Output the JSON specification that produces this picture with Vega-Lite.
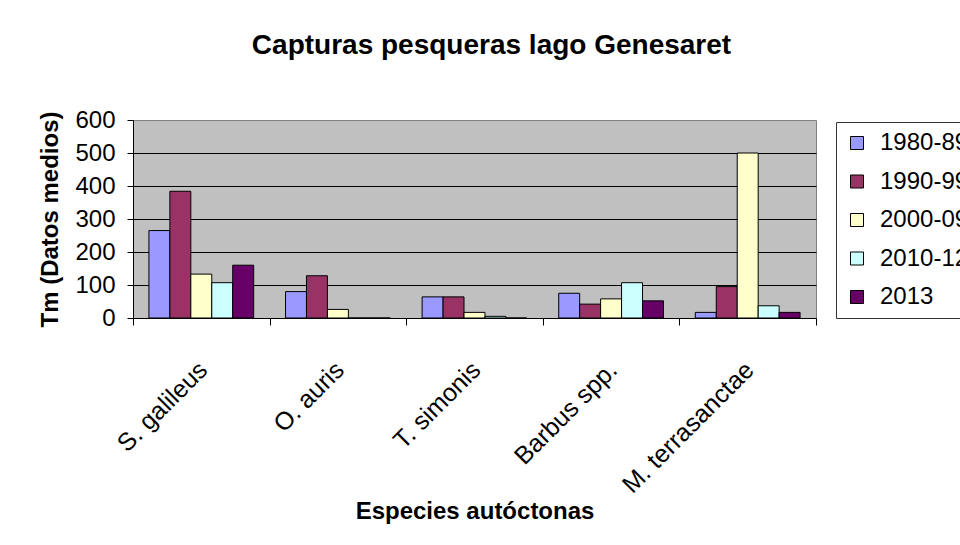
{
  "$schema": "https://vega.github.io/schema/vega-lite/v6.json",
  "width": 683,
  "height": 198,
  "autosize": {"type": "none"},
  "padding": {"left": 133, "top": 120, "right": 144, "bottom": 227},
  "background": "white",
  "title": {
    "text": "Capturas pesqueras lago Genesaret",
    "fontSize": 28,
    "fontWeight": "bold",
    "font": "Liberation Sans",
    "color": "black",
    "anchor": "middle",
    "frame": "group",
    "dx": 17,
    "offset": 48
  },
  "data": {
    "values": [
      {"species": "S. galileus", "period": "1980-89", "value": 265},
      {"species": "S. galileus", "period": "1990-99", "value": 384},
      {"species": "S. galileus", "period": "2000-09", "value": 133},
      {"species": "S. galileus", "period": "2010-12", "value": 107},
      {"species": "S. galileus", "period": "2013", "value": 160},
      {"species": "O. auris", "period": "1980-89", "value": 80},
      {"species": "O. auris", "period": "1990-99", "value": 128},
      {"species": "O. auris", "period": "2000-09", "value": 26},
      {"species": "O. auris", "period": "2010-12", "value": 0},
      {"species": "O. auris", "period": "2013", "value": 0},
      {"species": "T. simonis", "period": "1980-89", "value": 64},
      {"species": "T. simonis", "period": "1990-99", "value": 64},
      {"species": "T. simonis", "period": "2000-09", "value": 17},
      {"species": "T. simonis", "period": "2010-12", "value": 5},
      {"species": "T. simonis", "period": "2013", "value": 0},
      {"species": "Barbus spp.", "period": "1980-89", "value": 75},
      {"species": "Barbus spp.", "period": "1990-99", "value": 42},
      {"species": "Barbus spp.", "period": "2000-09", "value": 58},
      {"species": "Barbus spp.", "period": "2010-12", "value": 107},
      {"species": "Barbus spp.", "period": "2013", "value": 52},
      {"species": "M. terrasanctae", "period": "1980-89", "value": 17},
      {"species": "M. terrasanctae", "period": "1990-99", "value": 95},
      {"species": "M. terrasanctae", "period": "2000-09", "value": 500},
      {"species": "M. terrasanctae", "period": "2010-12", "value": 37},
      {"species": "M. terrasanctae", "period": "2013", "value": 17}
    ]
  },
  "mark": {"type": "bar", "stroke": "black", "strokeWidth": 1},
  "encoding": {
    "x": {
      "field": "species",
      "type": "nominal",
      "sort": ["S. galileus", "O. auris", "T. simonis", "Barbus spp.", "M. terrasanctae"],
      "scale": {"paddingInner": 0, "paddingOuter": 0},
      "axis": {
        "title": "Especies autóctonas",
        "titleFont": "Liberation Sans",
        "titleFontSize": 24,
        "titleFontWeight": "bold",
        "titleColor": "black",
        "titleY": 200,
        "titleBaseline": "alphabetic",
        "labelAngle": -45,
        "labelFont": "Liberation Sans",
        "labelFontSize": 25,
        "labelColor": "black",
        "labelPadding": 32,
        "labelOffset": -7,
        "labelLimit": 300,
        "tickSize": 7,
        "tickBand": "extent",
        "tickColor": "black",
        "domainColor": "black",
        "grid": false
      }
    },
    "xOffset": {
      "field": "period",
      "type": "nominal",
      "sort": ["1980-89", "1990-99", "2000-09", "2010-12", "2013"],
      "scale": {"paddingInner": 0, "paddingOuter": 0.76}
    },
    "y": {
      "field": "value",
      "type": "quantitative",
      "scale": {"domain": [0, 600], "nice": false},
      "axis": {
        "values": [0, 100, 200, 300, 400, 500, 600],
        "title": "Tm (Datos medios)",
        "titleFont": "Liberation Sans",
        "titleFontSize": 24,
        "titleFontWeight": "bold",
        "titleColor": "black",
        "titleAngle": -90,
        "titleX": -83,
        "titleY": 99,
        "titleAlign": "center",
        "titleBaseline": "middle",
        "labelFont": "Liberation Sans",
        "labelFontSize": 24,
        "labelColor": "black",
        "labelPadding": 12,
        "tickSize": 6,
        "tickColor": "black",
        "domainColor": "black",
        "grid": true,
        "gridColor": {"condition": {"test": "datum.value == 0 || datum.value == 600", "value": "transparent"}, "value": "black"},
        "gridOpacity": 1
      }
    },
    "color": {
      "field": "period",
      "type": "nominal",
      "scale": {
        "domain": ["1980-89", "1990-99", "2000-09", "2010-12", "2013"],
        "range": ["#9999FF", "#993366", "#FFFFCC", "#CCFFFF", "#660066"]
      },
      "legend": {
        "orient": "none",
        "legendX": 703,
        "legendY": 2,
        "title": null,
        "labelFont": "Liberation Sans",
        "labelFontSize": 24,
        "labelColor": "black",
        "labelLimit": 0,
        "symbolType": "square",
        "symbolSize": 169,
        "symbolStrokeColor": "black",
        "symbolStrokeWidth": 1,
        "symbolOpacity": 1,
        "labelOffset": 11,
        "rowPadding": 14.5,
        "padding": 9,
        "strokeColor": "#333333",
        "fillColor": "white"
      }
    }
  },
  "config": {
    "view": {"fill": "#C0C0C0", "stroke": "#808080"},
    "font": "Liberation Sans"
  }
}
